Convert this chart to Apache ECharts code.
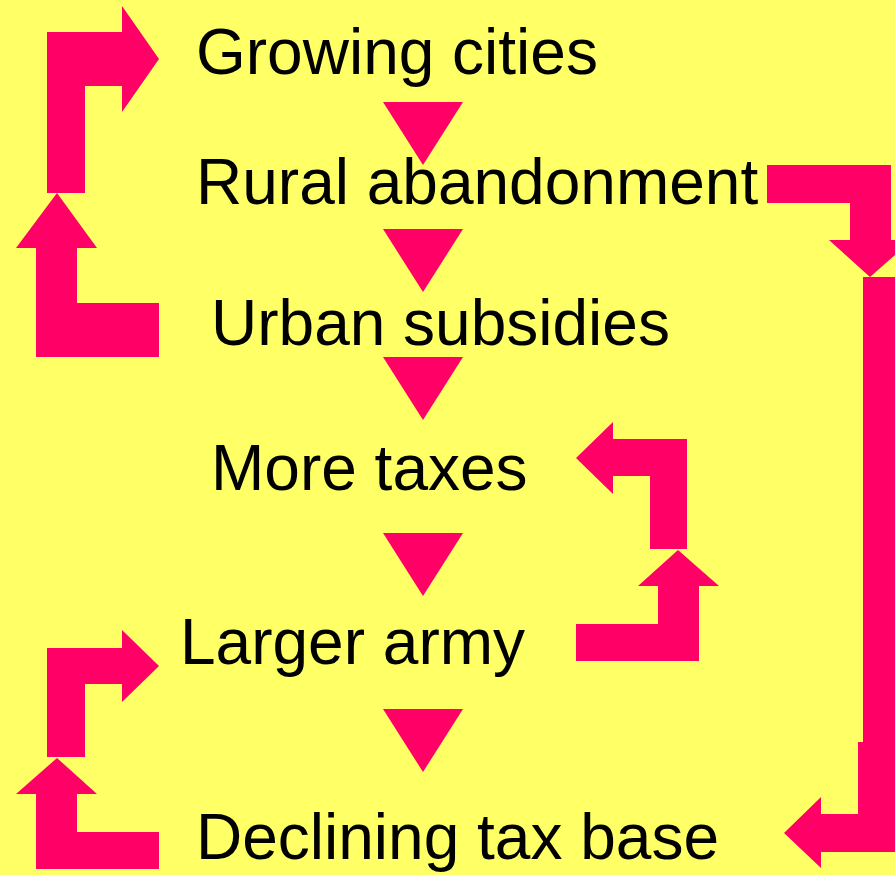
<!DOCTYPE html>
<html>
<head>
<meta charset="utf-8">
<script src="https://cdn.jsdelivr.net/npm/echarts@6/dist/echarts.min.js"></script>
<style>
  html, body { margin: 0; padding: 0; background: #FFFF66; }
  #main { width: 895px; height: 875px; }
</style>
</head>
<body>
<div id="main"></div>
<script>
// steps of the cycle, top to bottom: [text, left x, baseline y]
var steps = [
    ['Growing cities', 196, 79],
    ['Rural abandonment', 196, 209],
    ['Urban subsidies', 211, 350],
    ['More taxes', 211, 495],
    ['Larger army', 180, 669],
    ['Declining tax base', 196, 864]
];

// down triangles between the steps (top y)
var triangleTops = [102, 229, 357, 533, 709];

// elbow arrows, outline points
var arrows = [
    [[47,193],[47,32],[122,32],[122,6],[159,59],[122,112],[122,86],[85,86],[85,193]],
    [[57,193],[97,248],[77,248],[77,303],[159,303],[159,357],[36,357],[36,248],[16,248]],
    [[767,165],[891,165],[891,240],[912,240],[870,277],[829,240],[850,240],[850,203],[767,203]],
    [[863,277],[900,277],[900,742],[863,742]],
    [[858,742],[900,742],[900,852],[821,852],[821,868],[784,833],[821,797],[821,814],[858,814]],
    [[687,549],[650,549],[650,476],[613,476],[613,494],[576,458],[613,422],[613,439],[687,439]],
    [[678,550],[719,586],[699,586],[699,661],[576,661],[576,624],[658,624],[658,586],[638,586]],
    [[47,757],[47,648],[122,648],[122,630],[159,666],[122,702],[122,684],[85,684],[85,757]],
    [[57,758],[97,794],[77,794],[77,832],[159,832],[159,869],[36,869],[36,794],[16,794]]
];

var pink = '#FF0066';
var fontSize = 64;

var myChart = echarts.init(document.getElementById('main'));

var option = {
    backgroundColor: '#FFFF66',
    animation: false,
    grid: { left: 0, right: 0, top: 0, bottom: 0 },
    xAxis: { type: 'value', min: 0, max: 895, show: false },
    yAxis: { type: 'value', min: 0, max: 875, inverse: true, show: false },
    series: [
        {
            type: 'custom',
            clip: false,
            data: arrows.map(function (a, i) { return [i]; }),
            renderItem: function (params, api) {
                var pts = arrows[params.dataIndex].map(function (p) { return api.coord(p); });
                return { type: 'polygon', shape: { points: pts }, style: { fill: pink } };
            }
        },
        {
            type: 'custom',
            data: triangleTops.map(function (t) { return [423, t]; }),
            renderItem: function (params, api) {
                var x = api.value(0), t = api.value(1);
                var pts = [[x - 40, t], [x + 40, t], [x, t + 63]].map(function (p) { return api.coord(p); });
                return { type: 'polygon', shape: { points: pts }, style: { fill: pink } };
            }
        },
        {
            type: 'custom',
            data: steps.map(function (s) { return [s[1], s[2]]; }),
            renderItem: function (params, api) {
                var p = api.coord([api.value(0), api.value(1)]);
                return {
                    type: 'text',
                    x: p[0],
                    y: p[1] - fontSize * 0.3465,
                    style: {
                        text: steps[params.dataIndex][0],
                        fill: '#000',
                        font: fontSize + 'px "Liberation Sans", Arial, sans-serif',
                        align: 'left',
                        verticalAlign: 'middle'
                    }
                };
            }
        }
    ]
};

myChart.setOption(option);
</script>
</body>
</html>
